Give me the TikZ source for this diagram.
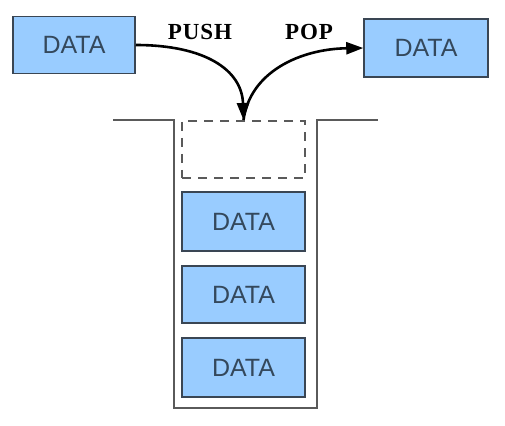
\documentclass[tikz,border=0pt]{standalone}
\usepackage{fontspec}
\setmainfont{Liberation Sans}
\newfontfamily\lblfont[LetterSpace=4]{Liberation Serif}
\usetikzlibrary{arrows.meta}
\definecolor{boxfill}{HTML}{99CCFF}
\definecolor{boxedge}{HTML}{3A4654}
\definecolor{boxtext}{HTML}{34485C}
\definecolor{wall}{HTML}{5A5A5A}
\tikzset{
  databox/.style={draw=boxedge, line width=1.5pt, fill=boxfill, inner sep=0pt,
    text=boxtext, font=\fontsize{25}{27}\selectfont},
  slotbox/.style={draw=wall, line width=1.5pt, dash pattern=on 9pt off 7pt, inner sep=0pt},
  opline/.style={line width=2.6pt, black, -{Triangle[length=17pt,width=12pt]}},
  oplabel/.style={font=\lblfont\bfseries\fontsize{23}{25}\selectfont, inner sep=0pt},
  wallline/.style={draw=wall, line width=1.6pt}
}
\begin{document}
\begin{tikzpicture}[x=1pt,y=-1pt]
\useasboundingbox (0,0) rectangle (505,425);
% source and destination
\node[databox, minimum width=122pt, minimum height=57pt] (src) at (74,45) {DATA};
\node[databox, minimum width=124pt, minimum height=58pt] (dst) at (426,48) {DATA};
% stack slots
\node[slotbox, minimum width=123pt, minimum height=57pt, anchor=north] (slot) at (243.5,120) {};
\node[databox, minimum width=123pt, minimum height=59pt] (d1) at (243.5,221.5) {DATA};
\node[databox, minimum width=123pt, minimum height=57pt] (d2) at (243.5,294.5) {DATA};
\node[databox, minimum width=123pt, minimum height=59pt] (d3) at (243.5,367.5) {DATA};
% container
\coordinate (tl) at (113,120);
\coordinate (tr) at (378,120);
\draw[wallline] (tl) -- (174,120) -- (174,408) -- (317,408) -- (317,120) -- (tr);
% labels
\node[oplabel] (push) at (200,32) {PUSH};
\node[oplabel] (pop) at (309,32) {POP};
% arrows
\draw[opline] (src.east) .. controls (205,45) and (242,70) .. (slot.north);
\draw[opline] (slot.north) .. controls (250,72) and (300,49) .. (dst.west);
\end{tikzpicture}
\end{document}
